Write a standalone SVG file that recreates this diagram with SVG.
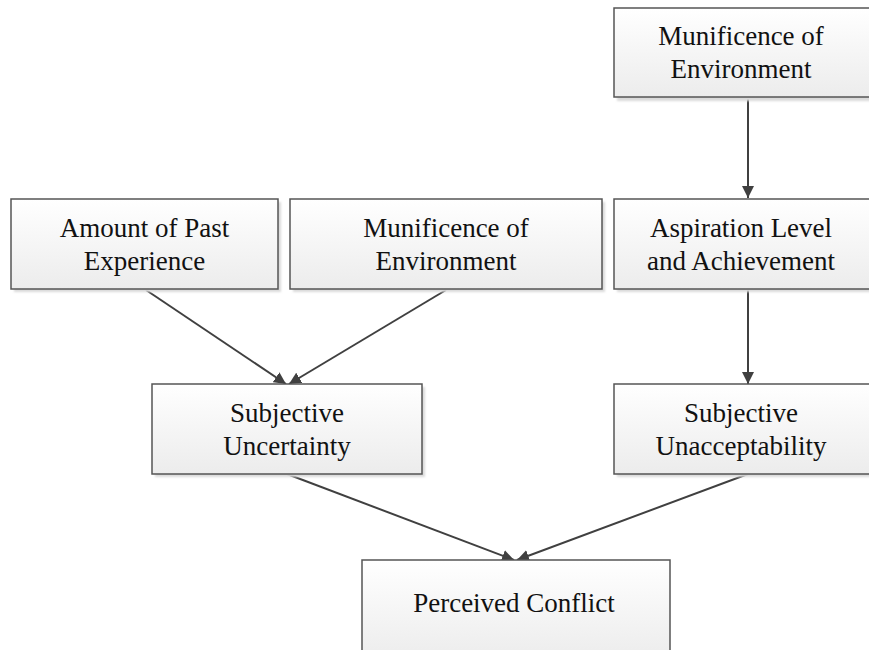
<svg xmlns="http://www.w3.org/2000/svg" width="869" height="650" viewBox="0 0 869 650">
  <defs>
    <linearGradient id="boxFill" x1="0" y1="0" x2="0" y2="1">
      <stop offset="0" stop-color="#ffffff"/>
      <stop offset="1" stop-color="#ececec"/>
    </linearGradient>
    <filter id="shadow" x="-5%" y="-5%" width="115%" height="120%">
      <feGaussianBlur stdDeviation="1"/>
    </filter>
    <marker id="arrow" viewBox="0 0 12 12" refX="12" refY="6" markerWidth="12" markerHeight="12" markerUnits="userSpaceOnUse" orient="auto">
      <path d="M0,0 L12,6 L0,12 Z" fill="#404040"/>
    </marker>
  </defs>
  <style>
    .box { fill: url(#boxFill); stroke: #555555; stroke-width: 1.5; }
    .shade { fill: #dadada; filter: url(#shadow); }
    text { font-family: 'Liberation Serif', 'DejaVu Serif', serif; font-size: 27px; fill: #111111; text-anchor: middle; }
    .edge { stroke: #404040; stroke-width: 2; fill: none; marker-end: url(#arrow); }
  </style>

  <rect width="869" height="650" fill="#ffffff"/>

  <g id="connectors">
    <line class="edge" x1="748" y1="98" x2="748" y2="198"/>
    <line class="edge" x1="748" y1="290" x2="748" y2="384"/>
    <line class="edge" x1="146" y1="290" x2="286" y2="384"/>
    <line class="edge" x1="446" y1="290" x2="289" y2="384"/>
    <line class="edge" x1="287" y1="474" x2="514" y2="560"/>
    <line class="edge" x1="748" y1="474" x2="517" y2="560"/>
  </g>

  <g id="node-munificence-top">
    <rect class="shade" x="617" y="11" width="260" height="90"/>
    <rect class="box" x="614" y="8" width="260" height="89"/>
    <text font-family="Liberation Serif, serif" x="741" y="45">Munificence of</text>
    <text font-family="Liberation Serif, serif" x="741" y="78">Environment</text>
  </g>

  <g id="node-past-experience">
    <rect class="shade" x="14" y="202" width="267" height="90"/>
    <rect class="box" x="11" y="199" width="267" height="90"/>
    <text x="144.5" y="237">Amount of Past</text>
    <text x="144.5" y="270">Experience</text>
  </g>

  <g id="node-munificence-mid">
    <rect class="shade" x="293" y="202" width="312" height="90"/>
    <rect class="box" x="290" y="199" width="312" height="90"/>
    <text x="446" y="237">Munificence of</text>
    <text x="446" y="270">Environment</text>
  </g>

  <g id="node-aspiration">
    <rect class="shade" x="617" y="202" width="260" height="90"/>
    <rect class="box" x="614" y="199" width="260" height="90"/>
    <text x="741" y="237">Aspiration Level</text>
    <text x="741" y="270">and Achievement</text>
  </g>

  <g id="node-uncertainty">
    <rect class="shade" x="155" y="387" width="270" height="90"/>
    <rect class="box" x="152" y="384" width="270" height="90"/>
    <text x="287" y="422">Subjective</text>
    <text x="287" y="455">Uncertainty</text>
  </g>

  <g id="node-unacceptability">
    <rect class="shade" x="617" y="387" width="260" height="90"/>
    <rect class="box" x="614" y="384" width="260" height="90"/>
    <text x="741" y="422">Subjective</text>
    <text x="741" y="455">Unacceptability</text>
  </g>

  <g id="node-perceived-conflict">
    <rect class="box" x="362" y="560" width="308" height="100"/>
    <text x="514" y="612">Perceived Conflict</text>
  </g>
</svg>
